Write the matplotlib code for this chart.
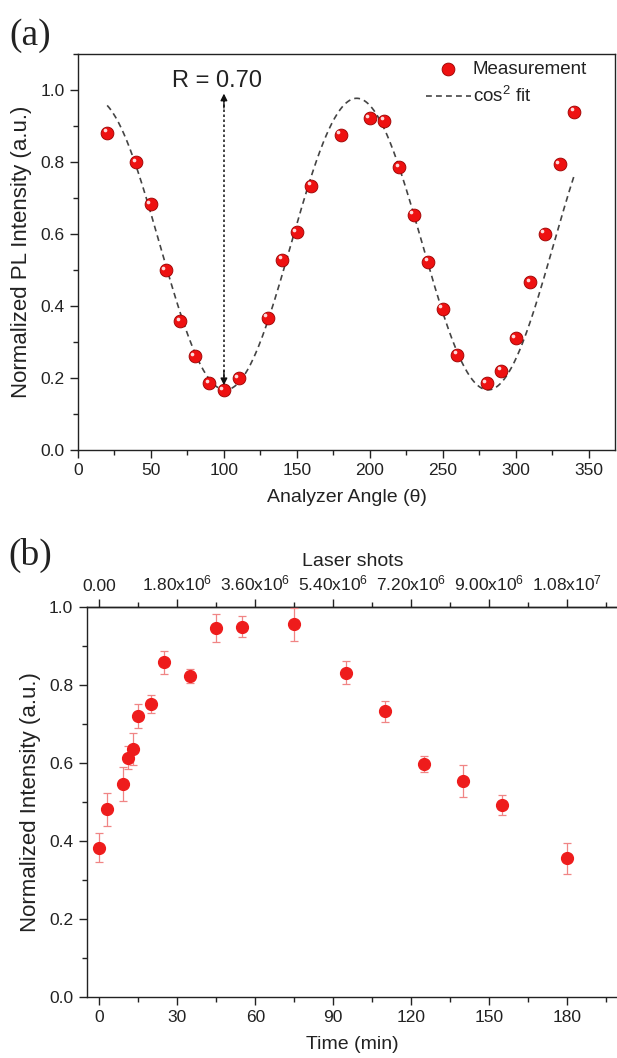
import matplotlib
matplotlib.use('Agg')
import matplotlib.pyplot as plt
import matplotlib.transforms as mtransforms
from matplotlib.ticker import MultipleLocator
import numpy as np

plt.rcParams['font.family'] = ['Liberation Sans', 'DejaVu Sans']
plt.rcParams['mathtext.fontset'] = 'custom'
plt.rcParams['mathtext.rm'] = 'Liberation Sans'
plt.rcParams['mathtext.it'] = 'Liberation Sans:italic'
plt.rcParams['mathtext.bf'] = 'Liberation Sans:bold'
plt.rcParams['text.color'] = '#222222'
plt.rcParams['axes.labelcolor'] = '#222222'
plt.rcParams['xtick.color'] = '#222222'
plt.rcParams['ytick.color'] = '#222222'

# ---------------- data: panel (a) ----------------
angle = [20, 40, 50, 60, 70, 80, 90, 100, 110, 130, 140, 150, 160, 180,
         200, 210, 220, 230, 240, 250, 260, 280, 290, 300, 310, 320, 330, 340]
pl_intensity = [0.881, 0.800, 0.682, 0.500, 0.357, 0.261, 0.185, 0.166, 0.199,
                0.367, 0.529, 0.605, 0.734, 0.876, 0.921, 0.914, 0.786, 0.654,
                0.523, 0.392, 0.264, 0.185, 0.220, 0.311, 0.466, 0.601, 0.794,
                0.940]
# cos^2 fit parameters:  y = offset + amplitude * cos^2(theta - phase)
fit_offset = 0.167
fit_amplitude = 0.81
fit_phase = 191.0
fit_range = (20, 340)
r_value_text = 'R = 0.70'

# ---------------- data: panel (b) ----------------
time_min = [0, 3, 9, 11, 13, 15, 20, 25, 35, 45, 55, 75, 95, 110, 125, 140, 155, 180]
norm_intensity = [0.383, 0.481, 0.546, 0.614, 0.637, 0.721, 0.751, 0.858, 0.822,
                  0.946, 0.950, 0.956, 0.832, 0.733, 0.598, 0.554, 0.493, 0.356]
intensity_err = [0.037, 0.042, 0.043, 0.030, 0.041, 0.031, 0.024, 0.029, 0.018,
                 0.036, 0.026, 0.042, 0.030, 0.027, 0.021, 0.040, 0.026, 0.040]
shot_tick_times = [0, 30, 60, 90, 120, 150, 180]
shot_tick_labels = ['0.00', r'1.80x10$^6$', r'3.60x10$^6$', r'5.40x10$^6$',
                    r'7.20x10$^6$', r'9.00x10$^6$', r'1.08x10$^7$']

W, H = 617, 1058
fig = plt.figure(figsize=(W / 100, H / 100), dpi=100)


def rect(l, r, t, b):
    return [l / W, 1 - b / H, (r - l) / W, (b - t) / H]


def style_axes(ax):
    for s in ax.spines.values():
        s.set_linewidth(1.0)
        s.set_color('#222222')
    ax.tick_params(which='major', direction='out', length=6, width=1.0, labelsize=12.5)
    ax.tick_params(which='minor', direction='out', length=3.5, width=1.0)
    ax.tick_params(top=False, right=False, which='both')


# ---------------- panel (a) ----------------
ax1 = fig.add_axes(rect(78, 615, 54, 450))
ax1.set_xlim(0, 368)
ax1.set_ylim(0, 1.1)

theta = np.linspace(fit_range[0], fit_range[1], 500)
fit_curve = fit_offset + fit_amplitude * np.cos(np.radians(theta - fit_phase)) ** 2
ln, = ax1.plot(theta, fit_curve, ls=(0, (3.5, 2.5)), color='#444444', lw=1.2,
               label='cos$^2$ fit', zorder=2)
sc = ax1.scatter(angle, pl_intensity, s=85, color='#ee1111', edgecolors='#9a0000',
                 linewidths=0.6, zorder=3, label='Measurement')
hl_tr = mtransforms.offset_copy(ax1.transData, fig=fig, x=-1.8, y=1.8, units='points')
ax1.scatter(angle, pl_intensity, s=7, color='white', alpha=0.85, linewidths=0,
            zorder=4, transform=hl_tr)

# double-headed dotted arrow
ax1.vlines(100, 0.19, 0.975, linestyles=(0, (1.5, 1.5)), colors='#222222', lw=1.2, zorder=2)
ax1.annotate('', xy=(100, 0.99), xytext=(100, 0.95),
             arrowprops=dict(arrowstyle='-|>', color='#111111', lw=1.0,
                             mutation_scale=10, shrinkA=0, shrinkB=0))
ax1.annotate('', xy=(100, 0.18), xytext=(100, 0.22),
             arrowprops=dict(arrowstyle='-|>', color='#111111', lw=1.0,
                             mutation_scale=10, shrinkA=0, shrinkB=0))
ax1.text(95, 1.025, r_value_text, ha='center', va='center', fontsize=17)

ax1.legend(handles=[sc, ln], loc='upper right', bbox_to_anchor=(0.955, 0.993),
           frameon=False, fontsize=13.5, handlelength=2.4, handletextpad=0.1,
           labelspacing=0.45, borderpad=0.2, borderaxespad=0, scatterpoints=1)

ax1.xaxis.set_major_locator(MultipleLocator(50))
ax1.xaxis.set_minor_locator(MultipleLocator(25))
ax1.yaxis.set_major_locator(MultipleLocator(0.2))
ax1.yaxis.set_minor_locator(MultipleLocator(0.1))
ax1.yaxis.set_major_formatter(matplotlib.ticker.FormatStrFormatter('%.1f'))
style_axes(ax1)
ax1.set_xlabel('Analyzer Angle (θ)', fontsize=14, labelpad=8)
ax1.set_ylabel('Normalized PL Intensity (a.u.)', fontsize=16, labelpad=6)

# ---------------- panel (b) ----------------
ax2 = fig.add_axes(rect(86.5, 619, 607, 997))
ax2.errorbar(time_min, norm_intensity, yerr=intensity_err, fmt='o', ms=8.5,
             color='#ee1c1c', mec='#ee1c1c', ecolor='#f08585', elinewidth=0.9,
             capsize=3, capthick=0.9, zorder=3)
ax2.set_xlim(-5, 200)
ax2.set_ylim(0, 1.0)
ax2.xaxis.set_major_locator(MultipleLocator(30))
ax2.xaxis.set_minor_locator(MultipleLocator(15))
ax2.yaxis.set_major_locator(MultipleLocator(0.2))
ax2.yaxis.set_minor_locator(MultipleLocator(0.1))
ax2.yaxis.set_major_formatter(matplotlib.ticker.FormatStrFormatter('%.1f'))
style_axes(ax2)
ax2.set_xlabel('Time (min)', fontsize=14, labelpad=8)
ax2.set_ylabel('Normalized Intensity (a.u.)', fontsize=16, labelpad=6)

sec = ax2.secondary_xaxis('top')
sec.set_xticks(shot_tick_times, shot_tick_labels)
sec.xaxis.set_minor_locator(MultipleLocator(15))
sec.tick_params(which='major', direction='out', length=6, width=1.0, labelsize=12.5)
sec.tick_params(which='minor', direction='out', length=3.5, width=1.0)
sec.spines['top'].set_linewidth(1.0)
sec.set_xlabel('Laser shots', fontsize=14, labelpad=6)

fig.text(30 / W, 1 - 36 / H, '(a)', family=['Liberation Serif', 'DejaVu Serif'],
         fontsize=27, ha='center', va='center')
fig.text(30 / W, 1 - 555 / H, '(b)', family=['Liberation Serif', 'DejaVu Serif'],
         fontsize=27, ha='center', va='center')

fig.savefig('out.png', dpi=100)
